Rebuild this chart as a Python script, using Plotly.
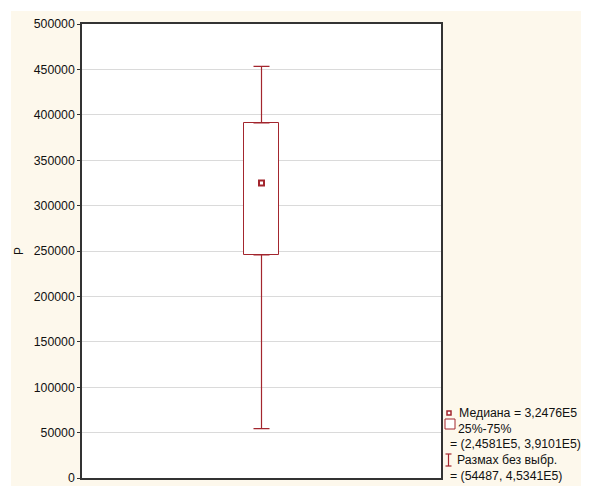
import plotly.graph_objects as go

# ---- data ----
variable = "P"
median_val = [324760]
q1_val = [245810]
q3_val = [391010]
min_val = [54487]
max_val = [453410]
y_ticks = [0, 50000, 100000, 150000, 200000, 250000, 300000, 350000, 400000, 450000, 500000]
legend_lines = [
    "Медиана = 3,2476E5",
    "25%-75%",
    "= (2,4581E5, 3,9101E5)",
    "Размах без выбр.",
    "= (54487, 4,5341E5)",
]

RED = "#A3262E"
CREAM = "#FDF8EC"
OFF = 8  # page body margin
W, H = 589 - OFF, 486 - OFF
L, R, T, B = 82 - OFF, 441 - OFF, 24 - OFF, 478 - OFF


def px(x):
    # x in window pixels -> paper fraction
    return (x - OFF - L) / (R - L)


def py(y):
    return (B - (y - OFF)) / (B - T)


xpos = [0]

fig = go.Figure()

# box (25%-75%)
fig.add_trace(go.Bar(
    x=xpos, base=q1_val, y=[q3_val[0] - q1_val[0]], width=0.2,
    marker=dict(color="white", line=dict(color=RED, width=1)),
    hoverinfo="skip",
))
# upper whisker
fig.add_trace(go.Scatter(
    x=xpos, y=q3_val, mode="markers",
    marker=dict(size=1, color="rgba(0,0,0,0)"),
    error_y=dict(type="data", symmetric=False,
                 array=[max_val[0] - q3_val[0]], arrayminus=[0],
                 color=RED, thickness=1.2, width=8),
    hoverinfo="skip",
))
# lower whisker
fig.add_trace(go.Scatter(
    x=xpos, y=q1_val, mode="markers",
    marker=dict(size=1, color="rgba(0,0,0,0)"),
    error_y=dict(type="data", symmetric=False,
                 array=[0], arrayminus=[q1_val[0] - min_val[0]],
                 color=RED, thickness=1.2, width=8),
    hoverinfo="skip",
))
# median
fig.add_trace(go.Scatter(
    x=xpos, y=median_val, mode="markers",
    marker=dict(symbol="square-open", size=5, color=RED, line=dict(color=RED, width=2)),
    hoverinfo="skip",
))

shapes = [
    # white strips (top / left) outside the cream panel
    dict(type="rect", xref="paper", yref="paper", x0=px(0), x1=px(600), y0=py(11), y1=py(0),
         fillcolor="white", line=dict(width=0), layer="below"),
    dict(type="rect", xref="paper", yref="paper", x0=px(0), x1=px(11), y0=py(500), y1=py(0),
         fillcolor="white", line=dict(width=0), layer="below"),
    # legend icons
    dict(type="rect", xref="paper", yref="paper", x0=px(447), x1=px(451), y0=py(415), y1=py(411),
         fillcolor="white", line=dict(color=RED, width=1.5)),
    dict(type="rect", xref="paper", yref="paper", x0=px(445), x1=px(455), y0=py(429), y1=py(419),
         fillcolor="white", line=dict(color=RED, width=1)),
    dict(type="line", xref="paper", yref="paper", x0=px(448.5), x1=px(448.5), y0=py(466), y1=py(454),
         line=dict(color=RED, width=1.2)),
    dict(type="line", xref="paper", yref="paper", x0=px(445.5), x1=px(451.5), y0=py(454), y1=py(454),
         line=dict(color=RED, width=1.2)),
    dict(type="line", xref="paper", yref="paper", x0=px(445.5), x1=px(451.5), y0=py(466), y1=py(466),
         line=dict(color=RED, width=1.2)),
]

ann_pos = [(457, 413), (456, 429), (448, 444), (455, 460), (448, 476)]
annotations = []
for txt, (ax, ay) in zip(legend_lines, ann_pos):
    annotations.append(dict(
        text=txt, xref="paper", yref="paper", x=px(ax), y=py(ay),
        xanchor="left", yanchor="middle", showarrow=False,
        font=dict(family="Liberation Sans, Arial", size=12.3, color="#111111"),
    ))

fig.update_layout(
    width=W, height=H,
    margin=dict(l=L, r=W - R, t=T, b=H - B, autoexpand=False),
    paper_bgcolor=CREAM, plot_bgcolor="white",
    showlegend=False, bargap=0,
    font=dict(family="Liberation Sans, Arial", size=12, color="#111111"),
    shapes=shapes, annotations=annotations,
    xaxis=dict(range=[-1, 1], showticklabels=False, ticks="", showgrid=False, zeroline=False,
               showline=True, mirror=True, linecolor="#333333", linewidth=1.5, fixedrange=True,
               automargin=False),
    yaxis=dict(range=[0, 500000], tickvals=y_ticks, tickformat="d",
               ticks="outside", ticklen=3, tickcolor="#333333",
               showgrid=True, gridcolor="#DADADA", gridwidth=1, zeroline=False,
               showline=True, mirror=True, linecolor="#333333", linewidth=1.5,
               automargin=False,
               title=dict(text=variable, standoff=8, font=dict(size=12)),
               tickfont=dict(size=12.3)),
)

fig.write_html("out.html")
